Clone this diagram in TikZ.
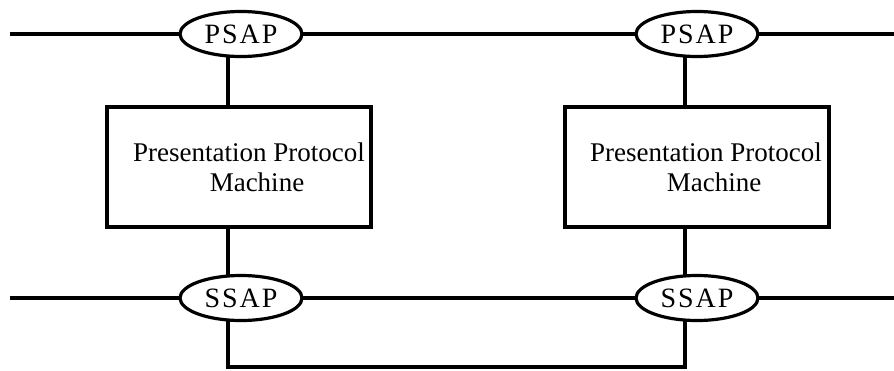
\documentclass[tikz,border=0pt]{standalone}
\usepackage{fontspec}
\setmainfont{Liberation Serif}
\usetikzlibrary{shapes.geometric,backgrounds}
\begin{document}
\begin{tikzpicture}[x=1pt,y=-1pt,
  wire/.style={line width=3.2pt},
  sap/.style={ellipse,draw,line width=3.2pt,fill=white,minimum width=122pt,minimum height=45pt,inner sep=0pt,font=\fontsize{28}{30}\selectfont},
  machine/.style={rectangle,draw,line width=3.2pt,fill=white,minimum width=264pt,minimum height=120pt,inner sep=0pt,align=center,font=\fontsize{27}{30}\selectfont}]
\useasboundingbox (0,0) rectangle (894,370);
\node[sap] (psap1) at (241,34) {P\kern2pt S\kern2pt A\kern2pt P};
\node[sap] (psap2) at (697,34) {P\kern2pt S\kern2pt A\kern2pt P};
\node[sap] (ssap1) at (241,298) {S\kern2pt S\kern2pt A\kern2pt P};
\node[sap] (ssap2) at (697,298) {S\kern2pt S\kern2pt A\kern2pt P};
\node[machine] (ppm1) at (239,167) {\hspace*{20pt}Presentation Protocol\\\hspace*{36pt}Machine};
\node[machine] (ppm2) at (697,167) {\hspace*{18pt}Presentation Protocol\\\hspace*{34pt}Machine};
\coordinate (tl) at (10,34);
\coordinate (tr) at (894,34);
\coordinate (bl) at (10,298);
\coordinate (br) at (894,298);
\coordinate (loopy) at (0,367);
\begin{scope}[on background layer]
\draw[wire] (tl) -- (psap1.center) -- (psap2.center) -- (tr);
\draw[wire] (bl) -- (ssap1.center) -- (ssap2.center) -- (br);
\draw[wire] ([xshift=-11pt]ppm1.north) -- ([xshift=-11pt]ppm1.north |- psap1.center);
\draw[wire] ([xshift=-12pt]ppm2.north) -- ([xshift=-12pt]ppm2.north |- psap2.center);
\draw[wire] ([xshift=-11pt]ppm1.south) -- ([xshift=-11pt]ppm1.south |- ssap1.center);
\draw[wire] ([xshift=-12pt]ppm2.south) -- ([xshift=-12pt]ppm2.south |- ssap2.center);
\draw[wire] ([xshift=-13pt]ssap1.center) |- ([xshift=-12pt]ssap2.center |- loopy) -- ([xshift=-12pt]ssap2.center);
\end{scope}
\end{tikzpicture}
\end{document}
